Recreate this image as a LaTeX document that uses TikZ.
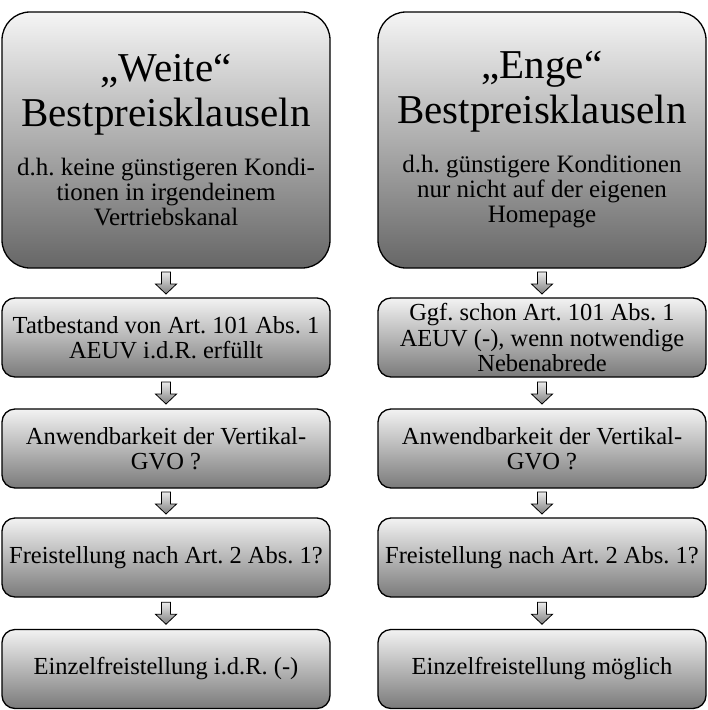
\documentclass[tikz,border=0pt]{standalone}
\usepackage{fontspec}
\setmainfont{Liberation Serif}
\usetikzlibrary{calc}
\tikzset{
  boxline/.style={draw=black, line width=1.3pt, inner sep=0pt, align=flush center},
  bigbox/.style={boxline, rounded corners=28pt, top color=black!4, bottom color=black!60,
    minimum width=328pt, minimum height=256pt, text width=326pt},
  smallbox/.style={boxline, rounded corners=13pt, top color=black!5, bottom color=black!52,
    minimum width=328pt, minimum height=79pt, text width=328pt,
    font=\frenchspacing\fontsize{24.5}{25.5}\selectfont},
  downarr/.pic={
    \draw[line width=0.8pt, top color=black!8, bottom color=black!50]
      (-4.5,11) -- (4.5,11) -- (4.5,-1) -- (10.5,-1) -- (0,-11) -- (-10.5,-1) -- (-4.5,-1) -- cycle;
  }
}
\newcommand{\titlefont}{\fontsize{41}{45}\selectfont}
\newcommand{\subfont}{\frenchspacing\fontsize{25}{25}\selectfont}
\begin{document}
\begin{tikzpicture}[x=1pt,y=1pt]
\useasboundingbox (0,0) rectangle (708,-710);
% left column
\node[bigbox] (L1) at (166,-140) {{\titlefont „Weite“\\Bestpreisklauseln\par}\vspace{22pt}{\subfont d.h. keine günstigeren Kondi-\\tionen in irgendeinem\\Vertriebskanal\par}};
\node[smallbox] (L2) at (166,-337.5) {Tatbestand von Art. 101 Abs. 1\\AEUV i.d.R. erfüllt};
\node[smallbox] (L3) at (166,-448.5) {Anwendbarkeit der Vertikal-\\GVO ?};
\node[smallbox] (L4) at (166,-557.5) {Freistellung nach Art. 2 Abs. 1?};
\node[smallbox] (L5) at (166,-669) {Einzelfreistellung i.d.R. (-)};
% right column
\node[bigbox] (R1) at (542,-140) {{\titlefont „Enge“\\Bestpreisklauseln\par}\vspace{22pt}{\subfont d.h. günstigere Konditionen\\nur nicht auf der eigenen\\Homepage\par}};
\node[smallbox] (R2) at (542,-337.5) {Ggf. schon Art. 101 Abs. 1\\AEUV (-), wenn notwendige\\Nebenabrede};
\node[smallbox] (R3) at (542,-448.5) {Anwendbarkeit der Vertikal-\\GVO ?};
\node[smallbox] (R4) at (542,-557.5) {Freistellung nach Art. 2 Abs. 1?};
\node[smallbox] (R5) at (542,-669) {Einzelfreistellung möglich};
% arrows
\foreach \c in {L,R}{
  \foreach \a/\b in {1/2,2/3,3/4,4/5}{
    \path (\c\a.south) -- (\c\b.north) coordinate[pos=0.5] (m\c\a);
    \pic at (m\c\a) {downarr};
  }
}
\end{tikzpicture}
\end{document}
